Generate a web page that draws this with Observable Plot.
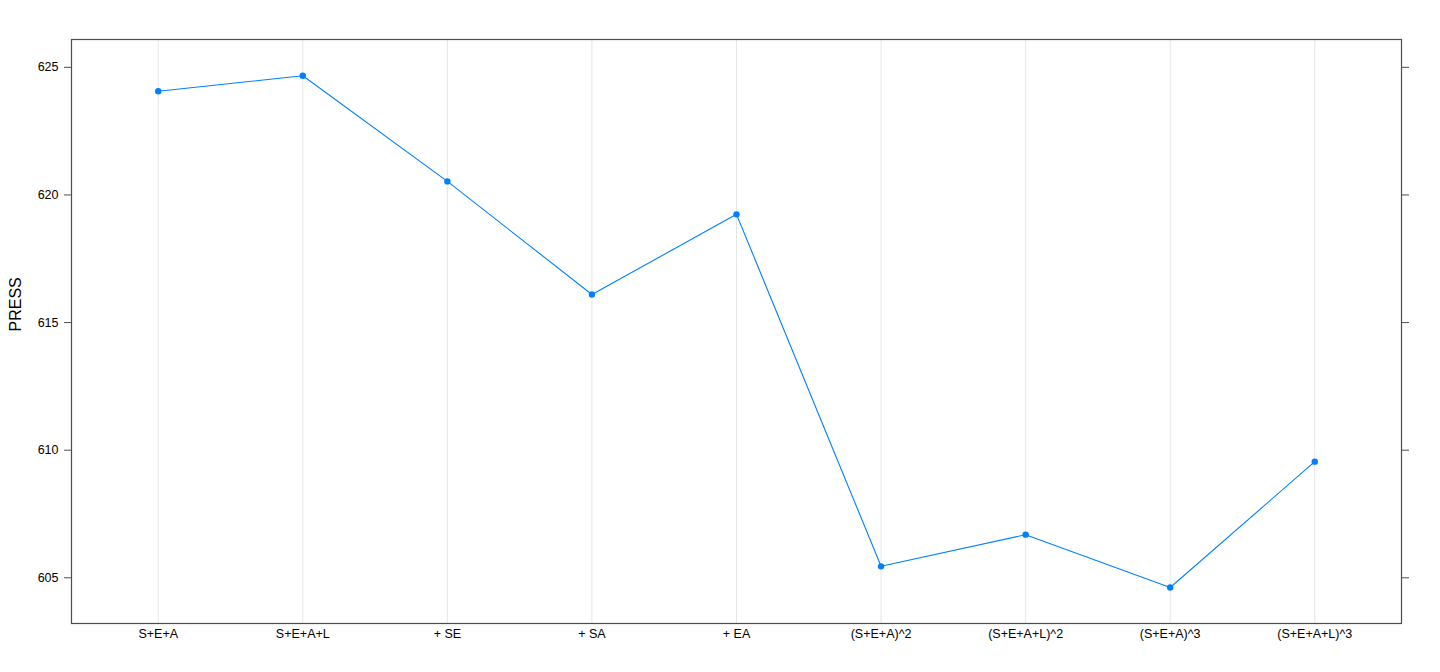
<!DOCTYPE html>
<html>
<head>
<meta charset="utf-8">
<script src="https://cdn.jsdelivr.net/npm/d3@7"></script>
<script src="https://cdn.jsdelivr.net/npm/@observablehq/plot@0.6"></script>
<style>
  html, body { margin: 0; padding: 0; background: #fff; }
  #chart svg { display: block; }
</style>
</head>
<body>
<div id="chart"></div>
<script>
const models = ["S+E+A", "S+E+A+L", "+ SE", "+ SA", "+ EA", "(S+E+A)^2", "(S+E+A+L)^2", "(S+E+A)^3", "(S+E+A+L)^3"];
const press = [624.06, 624.67, 620.53, 616.10, 619.24, 605.45, 606.69, 604.62, 609.55];
const yTicks = [605, 610, 615, 620, 625];

const data = models.map((m, i) => ({model: m, press: press[i]}));
const color = "#0080ff";

const chart = Plot.plot({
  width: 1440,
  height: 672,
  marginLeft: 71,
  marginRight: 39,
  marginTop: 39,
  marginBottom: 49,
  style: {fontFamily: "'Liberation Sans', Arial, Helvetica, sans-serif", fontSize: "12.5px", color: "#000", background: "#fff"},
  x: {type: "point", domain: models, padding: 0.6, round: false},
  y: {domain: [603.21, 626.09]},
  marks: [
    Plot.gridX(models, {stroke: "#e6e6e6", strokeOpacity: 1, strokeWidth: 1}),
    Plot.axisX({tickSize: 0, tickPadding: 6, label: null, fontSize: 12.5}),
    Plot.axisY(yTicks, {anchor: "left", tickSize: 7, tickPadding: 6, label: null, stroke: "#4d4d4d", fontSize: 12.5}),
    Plot.axisY(yTicks, {anchor: "right", tickSize: 7, tickFormat: () => "", label: null, stroke: "#4d4d4d"}),
    Plot.line(data, {x: "model", y: "press", stroke: color, strokeWidth: 1.1}),
    Plot.dot(data, {x: "model", y: "press", fill: color, r: 3.2, stroke: "none"}),
    Plot.frame({stroke: "#4d4d4d", strokeWidth: 1.2}),
    Plot.text(["PRESS"], {frameAnchor: "left", dx: -56, rotate: -90, fontSize: 16, fill: "#000"})
  ]
});
document.getElementById("chart").appendChild(chart);
</script>
</body>
</html>
